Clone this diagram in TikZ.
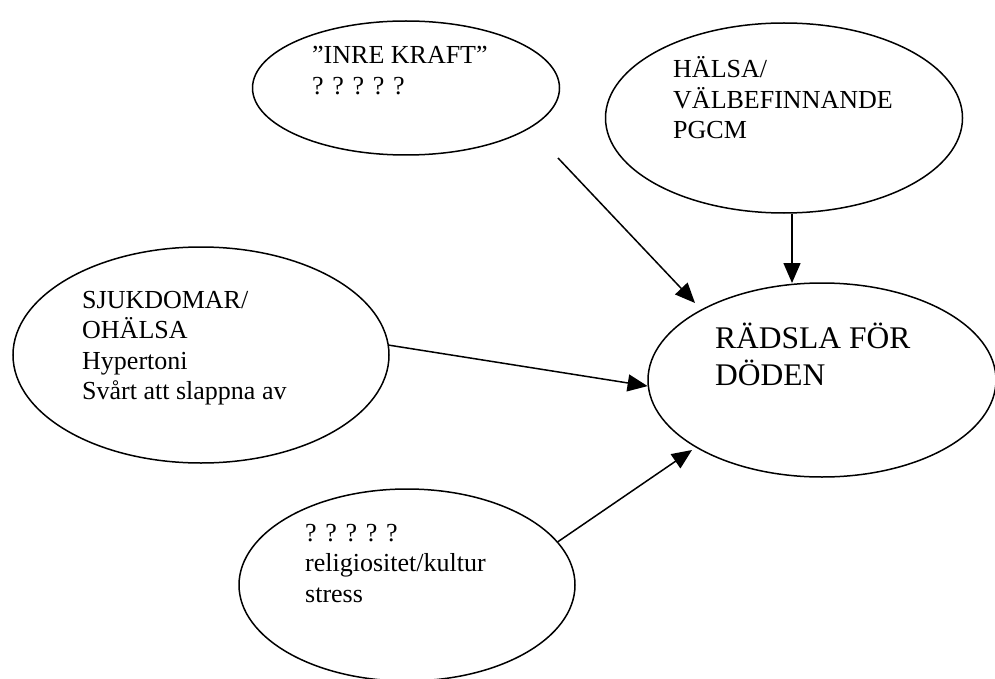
\documentclass[tikz,border=0pt]{standalone}
\usepackage{fontspec}
\setmainfont{Liberation Serif}
\usetikzlibrary{shapes.geometric,arrows.meta}
\tikzset{
  bubble/.style={ellipse,draw,line width=1.5pt,inner sep=0pt},
  txt/.style={anchor=base west,inner sep=0pt,font=\fontsize{26}{30.5}\selectfont},
  bigtxt/.style={anchor=base west,inner sep=0pt,font=\fontsize{31.5}{37}\selectfont},
  arr/.style={line width=1.5pt,-{Triangle[length=20pt,width=17pt]}}
}
\begin{document}
\begin{tikzpicture}[x=1pt,y=-1pt]
\useasboundingbox (0,0) rectangle (995,679);
\clip (0,0) rectangle (995,679);
% ellipses
\node[bubble,minimum width=307pt,minimum height=134pt] (inre) at (406,88) {};
\node[bubble,minimum width=357pt,minimum height=190pt] (halsa) at (784,118) {};
\node[bubble,minimum width=376pt,minimum height=216pt] (sjuk) at (201,355) {};
\node[bubble,minimum width=348pt,minimum height=194pt] (rad) at (822,380) {};
\node[bubble,minimum width=336pt,minimum height=192pt] (relig) at (407,585) {};
% texts
\node[txt] (tinre) at (312,64) {\begin{tabular}[t]{@{}l@{}}”INRE KRAFT”\\? ? ? ? ?\end{tabular}};
\node[txt] (thalsa) at (673,78) {\begin{tabular}[t]{@{}l@{}}HÄLSA/\\VÄLBEFINNANDE\\PGCM\end{tabular}};
\node[txt] (tsjuk) at (82,308) {\begin{tabular}[t]{@{}l@{}}SJUKDOMAR/\\OHÄLSA\\Hypertoni\\Svårt att slappna av\end{tabular}};
\node[bigtxt] (trad) at (715,348) {\begin{tabular}[t]{@{}l@{}}RÄDSLA FÖR\\DÖDEN\end{tabular}};
\node[txt] (trelig) at (305,541) {\begin{tabular}[t]{@{}l@{}}? ? ? ? ?\\religiositet/kultur\\stress\end{tabular}};
% connector ends
\coordinate (inreTail) at (558,158);
\coordinate (inreTip) at (695,303);
\coordinate (halsaTip) at (792,283);
\coordinate (religTip) at (692,450);
% connectors
\draw[arr] (inreTail) -- (inreTip);
\draw[arr] (halsaTip |- halsa.south) -- (halsaTip);
\draw[arr] (sjuk.3) -- (rad.182);
\draw[arr] (relig.16) -- (religTip);
\end{tikzpicture}
\end{document}
